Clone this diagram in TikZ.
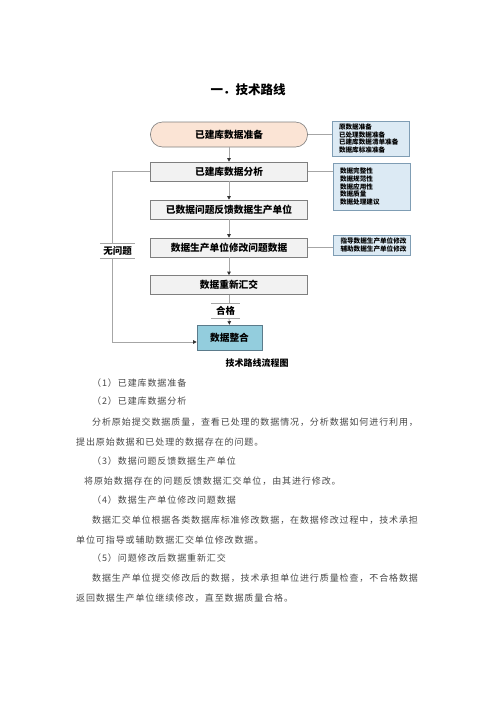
\documentclass[tikz,border=0pt]{standalone}
\usepackage{fontspec}
\newfontfamily\cjk{Noto Sans CJK SC}
\newfontfamily\cjkbody[LetterSpace=10]{Noto Sans CJK SC}
\usetikzlibrary{arrows.meta}

\definecolor{boxline}{HTML}{7F7F7F}
\definecolor{boxfill}{HTML}{F2F2F2}
\definecolor{prepfill}{HTML}{FBE4D5}
\definecolor{mergefill}{HTML}{93CDDD}
\definecolor{mergeline}{HTML}{5B7B8B}
\definecolor{notefill}{HTML}{DCEAF4}
\definecolor{noteline}{HTML}{7F9DB4}
\definecolor{linkgray}{HTML}{A6A6A6}

\tikzset{
  flowbox/.style={draw=boxline, fill=boxfill, line width=0.6pt, inner sep=0pt,
    minimum width=157pt, minimum height=19pt,
    font=\cjk\bfseries\fontsize{9.7}{10}\selectfont},
  startbox/.style={flowbox, fill=prepfill, rounded corners=12pt, minimum height=25pt},
  endbox/.style={flowbox, draw=mergeline, fill=mergefill, minimum width=65pt, minimum height=25pt},
  notebox/.style={draw=noteline, fill=notefill, line width=0.5pt, inner xsep=7pt,
    inner ysep=0pt, align=left, text width=63pt,
    font=\cjk\bfseries\fontsize{6.6}{7.6}\selectfont},
  condlabel/.style={inner sep=0pt, minimum height=15pt,
    font=\cjk\bfseries\fontsize{9.5}{10}\selectfont},
  rule/.style={draw=linkgray, line width=0.6pt},
  link/.style={draw=linkgray, line width=0.8pt},
  flow/.style={link, -{Triangle[length=3.5pt, width=3.5pt, color=black!80]}},
  bodyline/.style={anchor=west, inner sep=0pt, text=black!72,
    font=\cjkbody\fontsize{9}{10}\selectfont},
}

\begin{document}
\begin{tikzpicture}[x=1pt, y=-1pt]
    \useasboundingbox (0,0) rectangle (496,702);
    % title
    \node[font=\cjk\bfseries\fontsize{12.5}{13}\selectfont] (title) at (248,90) {一．技术路线};
    %% main column
    \node[startbox] (prep) at (229,134.5) {已建库数据准备};
    \node[flowbox] (analyse) at (229,171.5) {已建库数据分析};
    \node[flowbox] (feedback) at (229,209.5) {已数据问题反馈数据生产单位};
    \node[flowbox] (modify) at (229,247.5) {数据生产单位修改问题数据};
    \node[flowbox] (resubmit) at (229,285) {数据重新汇交};
    \node[endbox] (merge) at (229.5,337.5) {数据整合};
    %% side notes
    \node[notebox, minimum height=35pt] (note1) at (370.5,138.5)
      {原数据准备\\已处理数据准备\\已建库数据清单准备\\数据库标准准备};
    \node[notebox, minimum height=47pt] (note2) at (371.5,186.5)
      {数据完整性\\数据规范性\\数据应用性\\数据质量\\数据处理建议};
    \node[notebox, minimum height=20pt] (note3) at (372,245)
      {指导数据生产单位修改\\辅助数据生产单位修改};
    %% condition labels
    \node[condlabel, minimum width=35pt] (noissue) at (117.5,250.5) {无问题};
    \node[condlabel, minimum width=29pt] (pass) at (225.5,310.5) {合格};
    \draw[rule] (noissue.north west) -- (noissue.north east)
      (noissue.south west) -- (noissue.south east);
    \draw[rule] (pass.north west) -- (pass.north east)
      (pass.south west) -- (pass.south east);
    %% connectors
    \draw[flow] (prep) -- (analyse);
    \draw[flow] (analyse) -- (feedback);
    \draw[flow] (feedback) -- (modify);
    \draw[flow] (modify) -- (resubmit);
    \draw[link] (resubmit.south) -- (resubmit.south |- pass.north);
    \draw[flow] (resubmit.south |- pass.south) -- (merge.north);
    \draw[link] (prep.east) -- (prep.east -| note1.west);
    \draw[link] (analyse.east) -- (analyse.east -| note2.west);
    \draw[link] (modify.east) -- (modify.east -| note3.west);
    % loop on the left
    \coordinate (looptop) at (112,171.5);
    \coordinate (loopbot) at (112,342);
    \draw[link] (analyse.west) -- (looptop) -- (looptop |- noissue.north);
    \draw[flow] (looptop |- noissue.south) -- (loopbot) -- (loopbot -| merge.west);
    % caption
    \node[font=\cjk\bfseries\fontsize{9}{10}\selectfont] (caption) at (257,363) {技术路线流程图};
    %% body text
    \node[bodyline] (item1) at (92,383) {（1）已建库数据准备};
    \node[bodyline] (item2) at (92,401) {（2）已建库数据分析};
    \node[bodyline] (text2a) at (92,422) {分析原始提交数据质量，查看已处理的数据情况，分析数据如何进行利用，};
    \node[bodyline] (text2b) at (76,442) {提出原始数据和已处理的数据存在的问题。};
    \node[bodyline] (item3) at (92,461) {（3）数据问题反馈数据生产单位};
    \node[bodyline] (text3) at (84,481) {将原始数据存在的问题反馈数据汇交单位，由其进行修改。};
    \node[bodyline] (item4) at (92,500) {（4）数据生产单位修改问题数据};
    \node[bodyline] (text4a) at (92,520) {数据汇交单位根据各类数据库标准修改数据，在数据修改过程中，技术承担};
    \node[bodyline] (text4b) at (76,540) {单位可指导或辅助数据汇交单位修改数据。};
    \node[bodyline] (item5) at (92,558) {（5）问题修改后数据重新汇交};
    \node[bodyline] (text5a) at (92,578) {数据生产单位提交修改后的数据，技术承担单位进行质量检查，不合格数据};
    \node[bodyline] (text5b) at (76,598) {返回数据生产单位继续修改，直至数据质量合格。};
\end{tikzpicture}
\end{document}
